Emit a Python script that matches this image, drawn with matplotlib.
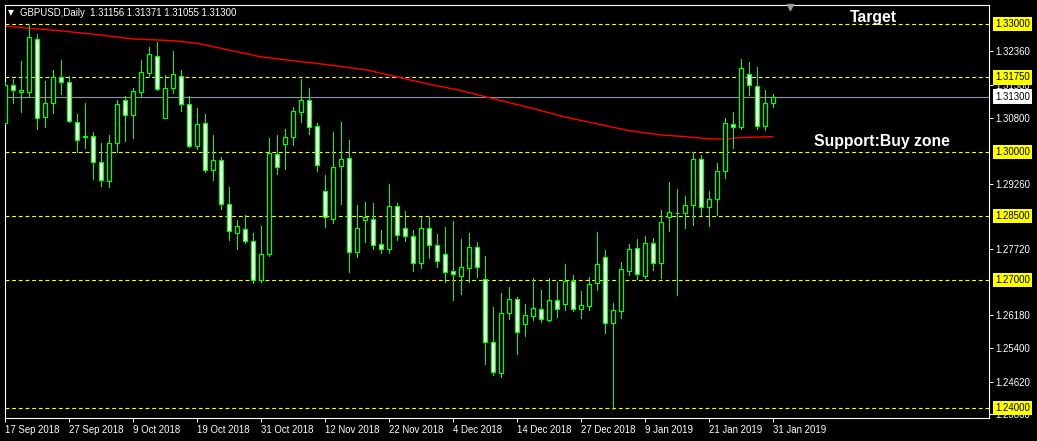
import numpy as np
import matplotlib
matplotlib.use("Agg")
import matplotlib.pyplot as plt

plt.rcParams['font.family'] = ['Liberation Sans', 'DejaVu Sans']

# GBPUSD daily bars, 17 Sep 2018 .. 31 Jan 2019 (one entry per trading day)
opens = [1.3068, 1.3157, 1.3141, 1.3141, 1.3265, 1.3082, 1.3115, 1.3176, 1.3164, 1.3071,
         1.3038, 1.3037, 1.2977, 1.2931, 1.3020, 1.3121, 1.3086, 1.3140, 1.3186, 1.3224,
         1.3080, 1.3149, 1.3177, 1.3112, 1.3015, 1.3067, 1.2957, 1.2981, 1.2877, 1.2811,
         1.2819, 1.2791, 1.2699, 1.2762, 1.2995, 1.3019, 1.3036, 1.3094, 1.3123, 1.3060,
         1.2908, 1.2844, 1.2968, 1.2985, 1.2766, 1.2841, 1.2842, 1.2784, 1.2772, 1.2873,
         1.2821, 1.2802, 1.2740, 1.2821, 1.2781, 1.2760, 1.2721, 1.2710, 1.2729, 1.2777,
         1.2702, 1.2554, 1.2481, 1.2622, 1.2655, 1.2596, 1.2616, 1.2631, 1.2607, 1.2652,
         1.2643, 1.2697, 1.2631, 1.2638, 1.2692, 1.2753, 1.2600, 1.2628, 1.2722, 1.2774,
         1.2710, 1.2786, 1.2741, 1.2848, 1.2856, 1.2856, 1.2875, 1.2984, 1.2870, 1.2889,
         1.2955, 1.3065, 1.3059, 1.3182, 1.3154, 1.3062, 1.31156]
highs = [1.3164, 1.3171, 1.3213, 1.3298, 1.3277, 1.3166, 1.3192, 1.3216, 1.3178, 1.3089,
         1.3115, 1.3048, 1.3021, 1.3040, 1.3122, 1.3131, 1.3151, 1.3216, 1.3246, 1.3257,
         1.3180, 1.3237, 1.3192, 1.3131, 1.3103, 1.3089, 1.3041, 1.2988, 1.2917, 1.2840,
         1.2852, 1.2810, 1.2827, 1.3032, 1.3040, 1.3053, 1.3105, 1.3171, 1.3149, 1.3067,
         1.2945, 1.3047, 1.3070, 1.3028, 1.2876, 1.2882, 1.2880, 1.2817, 1.2924, 1.2880,
         1.2861, 1.2817, 1.2847, 1.2847, 1.2808, 1.2824, 1.2838, 1.2796, 1.2810, 1.2790,
         1.2756, 1.2637, 1.2669, 1.2683, 1.2659, 1.2644, 1.2704, 1.2676, 1.2704, 1.2696,
         1.2737, 1.2712, 1.2674, 1.2708, 1.2812, 1.2770, 1.2646, 1.2742, 1.2784, 1.2796,
         1.2802, 1.2799, 1.2864, 1.2930, 1.2913, 1.2898, 1.3000, 1.2993, 1.2909, 1.2974,
         1.3079, 1.3094, 1.3218, 1.3211, 1.3199, 1.3145, 1.31371]
lows = [1.3066, 1.3115, 1.3094, 1.3132, 1.3054, 1.3059, 1.3091, 1.3136, 1.3070, 1.3000,
        1.3009, 1.2937, 1.2920, 1.2919, 1.3001, 1.3026, 1.3033, 1.3132, 1.3179, 1.3145,
        1.3080, 1.3138, 1.3097, 1.3012, 1.3008, 1.2954, 1.2934, 1.2866, 1.2794, 1.2773,
        1.2787, 1.2692, 1.2696, 1.2757, 1.2948, 1.2961, 1.3016, 1.3071, 1.3042, 1.2956,
        1.2825, 1.2834, 1.2878, 1.2719, 1.2755, 1.2789, 1.2773, 1.2763, 1.2764, 1.2794,
        1.2792, 1.2722, 1.2728, 1.2751, 1.2731, 1.2696, 1.2653, 1.2667, 1.2696, 1.2708,
        1.2504, 1.2477, 1.2473, 1.2608, 1.2526, 1.2569, 1.2606, 1.2601, 1.2604, 1.2614,
        1.2630, 1.2628, 1.2612, 1.2630, 1.2677, 1.2576, 1.2397, 1.2612, 1.2712, 1.2703,
        1.2705, 1.2723, 1.2705, 1.2815, 1.2665, 1.2823, 1.2830, 1.2852, 1.2827, 1.2853,
        1.2940, 1.3010, 1.3055, 1.3134, 1.3054, 1.3052, 1.31055]
closes = [1.3157, 1.3145, 1.3145, 1.3269, 1.3079, 1.3115, 1.3176, 1.3164, 1.3073, 1.3027,
          1.3036, 1.2976, 1.2934, 1.3020, 1.3112, 1.3086, 1.3142, 1.3187, 1.3229, 1.3148,
          1.3149, 1.3183, 1.3112, 1.3015, 1.3065, 1.2957, 1.2981, 1.2877, 1.2814, 1.2826,
          1.2791, 1.2699, 1.2762, 1.2997, 1.2966, 1.3034, 1.3095, 1.3123, 1.3059, 1.2970,
          1.2847, 1.2966, 1.2983, 1.2766, 1.2823, 1.2848, 1.2783, 1.2772, 1.2873, 1.2805,
          1.2802, 1.2740, 1.2821, 1.2781, 1.2745, 1.2719, 1.2713, 1.2730, 1.2777, 1.2731,
          1.2555, 1.2484, 1.2622, 1.2655, 1.2577, 1.2617, 1.2634, 1.2608, 1.2652, 1.2631,
          1.2697, 1.2631, 1.2641, 1.2690, 1.2737, 1.2600, 1.2629, 1.2725, 1.2772, 1.2713,
          1.2786, 1.2741, 1.2837, 1.2859, 1.2858, 1.2875, 1.2984, 1.2870, 1.2889, 1.2955,
          1.3067, 1.3059, 1.3196, 1.3156, 1.3062, 1.3114, 1.31300]

# moving average (red), read at a few bars
ma_idx = [0, 3, 7, 12, 16, 21, 24, 28, 32, 36, 41, 45, 49, 53, 57, 61, 66, 70, 74, 78,
          82, 85, 88, 90, 92, 96]
ma_val = [1.3295, 1.3290, 1.3284, 1.3274, 1.3265, 1.3261, 1.3255, 1.3239, 1.3223, 1.3214,
          1.3203, 1.3193, 1.3176, 1.3159, 1.3144, 1.3125, 1.3102, 1.3082, 1.3066, 1.3050,
          1.3040, 1.3036, 1.3031, 1.3030, 1.3034, 1.3036]

levels = [1.33, 1.3175, 1.30, 1.285, 1.27, 1.24]
last_price = 1.3130

date_ticks = [0, 8, 16, 24, 32, 40, 48, 56, 64, 72, 80, 88, 96]
date_labels = ['17 Sep 2018', '27 Sep 2018', '9 Oct 2018', '19 Oct 2018', '31 Oct 2018',
               '12 Nov 2018', '22 Nov 2018', '4 Dec 2018', '14 Dec 2018', '27 Dec 2018',
               '9 Jan 2019', '21 Jan 2019', '31 Jan 2019']
price_ticks = [1.2386, 1.2462, 1.2540, 1.2618, 1.2772, 1.2926,
               1.3080, 1.3158, 1.3236]

GREEN = '#00ff00'

fig = plt.figure(figsize=(10.37, 4.41), dpi=100, facecolor='black')
ax = fig.add_axes([5 / 1037, 23 / 441, 984 / 1037, 413.5 / 441])
ax.set_facecolor('black')

# levels and bid line
for lv in levels:
    ax.axhline(lv, color='#ffff00', lw=0.8, ls=(0, (3.5, 2.5)), zorder=1)
ax.axhline(last_price, color='#8a96a3', lw=0.8, zorder=1)

# moving average
ax.plot(ma_idx, ma_val, color='#ff0000', lw=1.0, zorder=2)

# candles
idx = np.arange(len(opens))
o = np.array(opens)
c = np.array(closes)
bull = c >= o
ax.vlines(idx, lows, highs, color=GREEN, lw=0.6, antialiased=False, zorder=3)
ax.bar(idx, np.abs(c - o), bottom=np.minimum(o, c), width=0.6,
       color=['black' if b else 'white' for b in bull],
       edgecolor=GREEN, linewidth=0.9, zorder=4)

ax.set_xlim(0, 123)
ax.set_ylim(1.237657, 1.33457)

ax.set_xticks(date_ticks)
ax.set_xticklabels(date_labels, ha='left')
ax.yaxis.tick_right()
ax.set_yticks(price_ticks)
ax.set_yticklabels([f'{v:.5f}' for v in price_ticks])
ax.tick_params(colors='white', labelsize=6.9, length=3, width=0.7, pad=1.5)
ax.tick_params(axis='x', pad=2)
for s in ax.spines.values():
    s.set_color('white')
    s.set_linewidth(0.8)

# price tags on the right
tr = ax.get_yaxis_transform()
for lv in levels:
    ax.text(1.0062, lv, f'{lv:.5f}', transform=tr, ha='left', va='center', fontsize=6.9,
            color='black', clip_on=False, zorder=6,
            bbox=dict(boxstyle='square,pad=0.25', fc='#ffff00', ec='none'))
ax.text(1.0062, last_price, f'{last_price:.5f}', transform=tr, ha='left', va='center',
        fontsize=6.9, color='black', clip_on=False, zorder=6,
        bbox=dict(boxstyle='square,pad=0.25', fc='white', ec='none'))

# annotations
ax.text(108.5, 1.33164, 'Target', color='white', fontsize=11.3, fontweight='bold',
        ha='center', va='center', zorder=7)
ax.text(109.6, 1.30241, 'Support:Buy zone', color='white', fontsize=11.3,
        fontweight='bold', ha='center', va='center', zorder=7)

# header
fig.text(8 / 1037, 1 - 12.7 / 441, '\u25bc', color='white', fontsize=5.5,
         ha='left', va='center', family=['DejaVu Sans'])
fig.text(20 / 1037, 1 - 12.7 / 441, 'GBPUSD,Daily  1.31156 1.31371 1.31055 1.31300',
         color='white', fontsize=6.9, ha='left', va='center')

# chart shift marker
ax.plot([0.798], [0.993], marker='v', color='#9a9a9a', ms=5, transform=ax.transAxes,
        clip_on=False, zorder=8)

fig.savefig('out.png', dpi=100, facecolor='black')
